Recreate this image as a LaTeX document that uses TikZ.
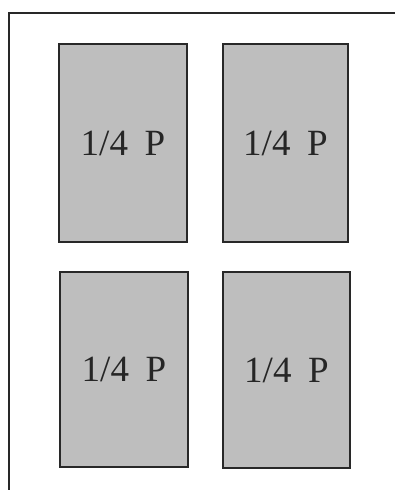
\documentclass[tikz,border=0pt]{standalone}
\usepackage{fontspec}
\setmainfont{Liberation Serif}
\definecolor{scangray}{RGB}{190,190,190}
\definecolor{inkline}{RGB}{40,40,40}
\begin{document}
\begin{tikzpicture}[x=1pt,y=-1pt,
  quarter/.style={draw=inkline, line width=2.3pt, fill=scangray,
    rectangle, inner sep=0pt, font=\fontsize{37}{37}\selectfont, text=black!85},
  frameline/.style={draw=inkline, line width=2.4pt}]
  \useasboundingbox (0,0) rectangle (395,490);
  \fill[white] (0,0) rectangle (395,490);
  \coordinate (fb) at (9,491);
  \coordinate (fc) at (9,13);
  \coordinate (fr) at (396,13);
  \draw[frameline] (fb) -- (fc) -- (fr);
  \node[quarter, minimum width=128pt, minimum height=198pt] (tl) at (123,143) {1/4\hspace{0.45em}P};
  \node[quarter, minimum width=125pt, minimum height=198pt] (tr) at (285.5,143) {1/4\hspace{0.45em}P};
  \node[quarter, minimum width=128pt, minimum height=195pt] (bl) at (124,369.5) {1/4\hspace{0.45em}P};
  \node[quarter, minimum width=127pt, minimum height=196pt] (br) at (286.5,370) {1/4\hspace{0.45em}P};
\end{tikzpicture}
\end{document}
